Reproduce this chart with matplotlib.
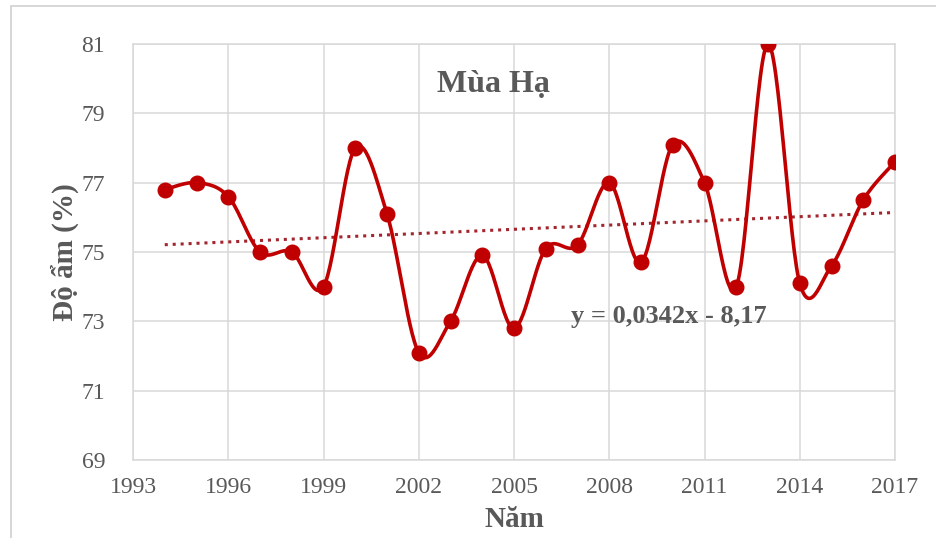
import numpy as np
import matplotlib
matplotlib.use("Agg")
import matplotlib.pyplot as plt
from matplotlib.patches import Rectangle

# data
years = [1994, 1995, 1996, 1997, 1998, 1999, 2000, 2001, 2002, 2003, 2004, 2005,
         2006, 2007, 2008, 2009, 2010, 2011, 2012, 2013, 2014, 2015, 2016, 2017]
humidity = [76.8, 77.0, 76.6, 75.0, 75.0, 74.0, 78.0, 76.1, 72.1, 73.0, 74.9, 72.8,
            75.1, 75.2, 77.0, 74.7, 78.1, 77.0, 74.0, 81.0, 74.1, 74.6, 76.5, 77.6]
x_ticks = [1993, 1996, 1999, 2002, 2005, 2008, 2011, 2014, 2017]
y_ticks = [69, 71, 73, 75, 77, 79, 81]
title = "Mùa Hạ"
equation = "y = 0,0342x - 8,17"


def smooth_curve(xs, ys, n=30):
    # Catmull-Rom style bezier, like Excel's smoothed line
    xs = np.asarray(xs, float)
    ys = np.asarray(ys, float)
    px, py = [], []
    for i in range(len(xs) - 1):
        i0 = max(i - 1, 0)
        i3 = min(i + 2, len(xs) - 1)
        p0 = np.array([xs[i], ys[i]])
        p3 = np.array([xs[i + 1], ys[i + 1]])
        c1 = p0 + (p3 - np.array([xs[i0], ys[i0]])) / 6.0
        c2 = p3 - (np.array([xs[i3], ys[i3]]) - p0) / 6.0
        t = np.linspace(0, 1, n)[:, None]
        pts = ((1 - t) ** 3) * p0 + 3 * ((1 - t) ** 2) * t * c1 + 3 * (1 - t) * t ** 2 * c2 + t ** 3 * p3
        px.extend(pts[:, 0])
        py.extend(pts[:, 1])
    return np.array(px), np.array(py)


serif = ["Liberation Serif", "DejaVu Serif"]
grey = "#595959"
red = "#C00000"

fig = plt.figure(figsize=(9.36, 5.38), dpi=100)
ax = fig.add_axes([133 / 936, 1 - 460 / 538, (895 - 133) / 936, (460 - 44) / 538])

# outer chart border
fig.patches.append(Rectangle((11 / 936, -0.1), 1.2, 1 - 6 / 538 + 0.1,
                             transform=fig.transFigure, fill=False,
                             edgecolor="#D0D0D0", linewidth=1.2))

sx, sy = smooth_curve(years, humidity)
ax.plot(sx, sy, color=red, linewidth=2.6, zorder=3)
ax.plot(years, humidity, "o", color=red, markersize=10.5, zorder=4)

# linear trendline
coef = np.polyfit(years, humidity, 1)
ty = np.polyval(coef, [years[0], years[-1]])
ax.plot([years[0], years[-1]], ty, linestyle=(0, (1, 1.6)), color="#A3262E",
        linewidth=2.2, zorder=2)

ax.set_xlim(1993, 2017)
ax.set_ylim(69, 81)
ax.set_xticks(x_ticks)
ax.set_yticks(y_ticks)
ax.grid(True, color="#D9D9D9", linewidth=1.1)
ax.set_axisbelow(True)
for s in ax.spines.values():
    s.set_color("#D9D9D9")
    s.set_linewidth(1.1)
ax.tick_params(length=0, labelsize=17, labelcolor=grey, pad=12)
ax.tick_params(axis="y", pad=20)
for lab in ax.get_xticklabels() + ax.get_yticklabels():
    lab.set_fontfamily(serif)

ax.set_xlabel("Năm", fontsize=21, fontweight="bold", color=grey, family=serif, labelpad=6)
ax.set_ylabel("Độ ẩm (%)", fontsize=21, fontweight="bold", color=grey, family=serif, labelpad=2)

fig.text(493 / 936, 1 - 85 / 538, title, ha="center", va="center", fontsize=23,
         fontweight="bold", color=grey, family=serif)
fig.text(669 / 936, 1 - 316 / 538, equation, ha="center", va="center", fontsize=19,
         fontweight="bold", color=grey, family=serif)

fig.savefig("out.png", dpi=100)
